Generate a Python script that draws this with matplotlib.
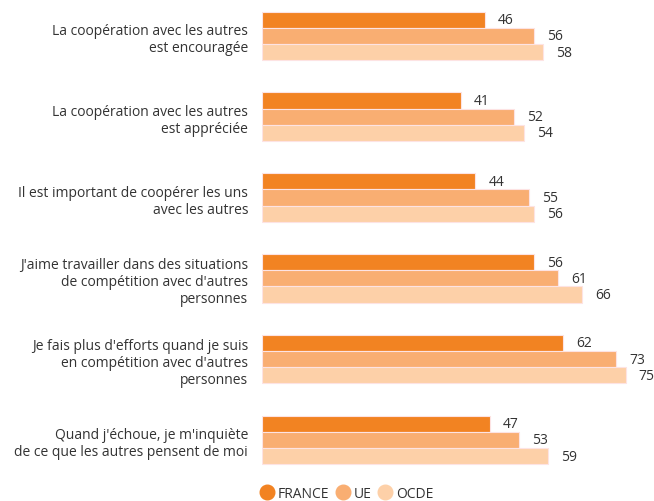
import matplotlib.pyplot as plt
from matplotlib.lines import Line2D
import numpy as np

plt.rcParams['font.family'] = ['Open Sans', 'DejaVu Sans']

categories = [
    "La coopération avec les autres\nest encouragée",
    "La coopération avec les autres\nest appréciée",
    "Il est important de coopérer les uns\navec les autres",
    "J'aime travailler dans des situations\nde compétition avec d'autres\npersonnes",
    "Je fais plus d'efforts quand je suis\nen compétition avec d'autres\npersonnes",
    "Quand j'échoue, je m'inquiète\nde ce que les autres pensent de moi",
]
france = [46, 41, 44, 56, 62, 47]
ue = [56, 52, 55, 61, 73, 53]
ocde = [58, 54, 56, 66, 75, 59]
series_names = ["FRANCE", "UE", "OCDE"]
colors = ["#F28322", "#F9AE72", "#FDD0A8"]

fig = plt.figure(figsize=(6.54, 5.02), dpi=100)
ax = fig.add_axes([262 / 654, 32 / 502, 388 / 654, 470 / 502])

y = np.arange(len(categories))
h = 0.2
txt = "#333333"
for i, (vals, c) in enumerate(zip([france, ue, ocde], colors)):
    pos = y + (i - 1) * h
    ax.barh(pos, vals, height=h, color=c, edgecolor="#fde3e3", linewidth=0.8)
    for p, v in zip(pos, vals):
        ax.text(v + 2.7, p, str(v), va="center", ha="left", fontsize=10, color=txt)

ax.set_xlim(0, 80)
ax.set_ylim(5.36, -0.457)
ax.set_yticks(y)
ax.set_yticklabels(categories, fontsize=10, color=txt, linespacing=1.2)
ax.tick_params(axis="y", length=0, pad=10)
ax.set_xticks([])
for s in ax.spines.values():
    s.set_visible(False)

handles = [Line2D([], [], marker="o", linestyle="", markersize=10.5,
                  markerfacecolor=c, markeredgecolor=c) for c in colors]
fig.legend(handles, series_names, loc="lower center", bbox_to_anchor=(0.528, -0.025),
           ncol=3, frameon=False, fontsize=10, handletextpad=0.05, columnspacing=0.3,
           handlelength=1.4, labelcolor=txt)

fig.savefig("out.png", dpi=100)
